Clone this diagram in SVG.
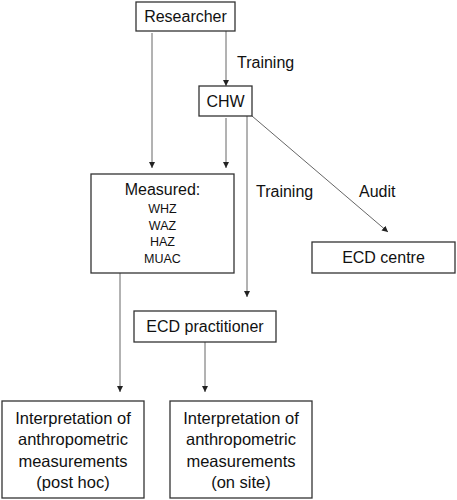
<svg xmlns="http://www.w3.org/2000/svg" width="457" height="500" viewBox="0 0 457 500">
<defs>
<marker id="ah" markerWidth="7" markerHeight="7" refX="6" refY="3" orient="auto" markerUnits="userSpaceOnUse">
<path d="M0,0 L6,3 L0,6 Z" fill="#222"/>
</marker>
<style>
.box{fill:#fff;stroke:#333;stroke-width:1.3}
.t{font-family:"Liberation Sans",Arial,sans-serif;font-size:16px;fill:#111;text-anchor:middle}
.i{font-family:"Liberation Sans",Arial,sans-serif;font-size:16.5px;fill:#111;text-anchor:middle}
.s{font-family:"Liberation Sans",Arial,sans-serif;font-size:12.5px;fill:#111;text-anchor:middle}
.lab{font-family:"Liberation Sans",Arial,sans-serif;font-size:16px;fill:#111}
.c{stroke:#666;stroke-width:1;fill:none;marker-end:url(#ah)}
</style>
</defs>
<rect width="457" height="500" fill="#fff"/>
<g id="connectors">
<line class="c" x1="152" y1="33" x2="152" y2="168"/>
<line class="c" x1="226" y1="31" x2="226" y2="86"/>
<line class="c" x1="226" y1="118" x2="226" y2="168"/>
<line class="c" x1="247" y1="116" x2="247" y2="297"/>
<line class="c" x1="252" y1="116" x2="388" y2="232"/>
<line class="c" x1="120" y1="273" x2="120" y2="392"/>
<line class="c" x1="205" y1="342" x2="205" y2="392"/>
<text class="lab" x="237" y="68">Training</text>
<text class="lab" x="256" y="197">Training</text>
<text class="lab" x="359" y="197">Audit</text>
</g>
<g id="researcher">
<rect class="box" x="136" y="2" width="99" height="29"/>
<text class="t" x="185.5" y="22">Researcher</text>
</g>
<g id="chw">
<rect class="box" x="199" y="86" width="53" height="30"/>
<text class="t" x="225.5" y="107">CHW</text>
</g>
<g id="measured">
<rect class="box" x="91" y="174" width="143" height="99"/>
<text class="t" x="162.5" y="195">Measured:</text>
<text class="s" x="162.5" y="213">WHZ</text>
<text class="s" x="162.5" y="229.5">WAZ</text>
<text class="s" x="162.5" y="246">HAZ</text>
<text class="s" x="162.5" y="263">MUAC</text>
</g>
<g id="ecd-centre">
<rect class="box" x="312" y="242" width="143" height="31"/>
<text class="t" x="383.5" y="263">ECD centre</text>
</g>
<g id="ecd-practitioner">
<rect class="box" x="134" y="311" width="142" height="31"/>
<text class="t" x="205" y="332">ECD practitioner</text>
</g>
<g id="interp-post-hoc">
<rect class="box" x="2" y="401" width="142" height="97"/>
<text class="i" x="73" y="423.5">Interpretation of</text>
<text class="i" x="73" y="445">anthropometric</text>
<text class="i" x="73" y="466.5">measurements</text>
<text class="i" x="73" y="488">(post hoc)</text>
</g>
<g id="interp-on-site">
<rect class="box" x="170" y="401" width="142" height="97"/>
<text class="i" x="241" y="423.5">Interpretation of</text>
<text class="i" x="241" y="445">anthropometric</text>
<text class="i" x="241" y="466.5">measurements</text>
<text class="i" x="241" y="488">(on site)</text>
</g>
</svg>
